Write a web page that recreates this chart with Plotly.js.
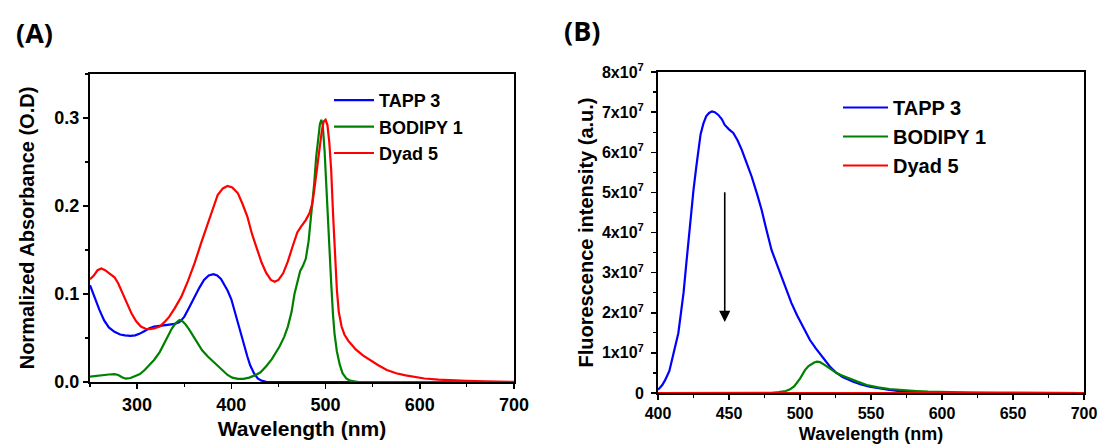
<!DOCTYPE html>
<html>
<head>
<meta charset="utf-8">
<script src="https://cdn.plot.ly/plotly-3.0.1.min.js"></script>
<style>html,body{margin:0;padding:0;background:#fff;}#chart{width:1099px;height:446px;}</style>
</head>
<body>
<div id="chart"></div>
<script>
// ---------- Panel A: absorbance ----------
const absTappNm = [250,255,260,265,270,276,282,287,293,298,303,308,313,318,325,333,340,345,350,355,361,366,371,376,381,385,389,393,396,400,403,407,410,414,417,420,424,428,432,437,445,500,600,700];
const absTapp   = [0.110,0.095,0.082,0.070,0.062,0.057,0.054,0.053,0.0525,0.053,0.055,0.058,0.061,0.063,0.064,0.065,0.066,0.068,0.074,0.084,0.097,0.107,0.116,0.121,0.1225,0.121,0.117,0.110,0.104,0.094,0.082,0.067,0.055,0.040,0.029,0.019,0.010,0.004,0.0015,0.0003,0,0,0,0];

const absBodNm = [250,256,262,270,276,280,284,288,293,297,303,308,313,318,324,329,333,337,341,345,348,351,355,360,364,369,375,380,385,390,396,401,407,413,419,425,431,437,443,451,456,460,464,467,470,473,476,479,482,485,488,490,492,494,495.5,497,499,501,502,504,506,508,509.5,512,515,518,522,526,530,535,600,700];
const absBod   = [0.006,0.007,0.008,0.0085,0.009,0.008,0.0055,0.0038,0.0045,0.006,0.009,0.0136,0.019,0.025,0.034,0.044,0.053,0.061,0.067,0.0705,0.069,0.066,0.060,0.051,0.044,0.036,0.029,0.024,0.0195,0.015,0.008,0.005,0.0035,0.0036,0.005,0.0075,0.011,0.018,0.026,0.040,0.051,0.063,0.080,0.100,0.115,0.126,0.132,0.140,0.160,0.190,0.226,0.255,0.278,0.293,0.298,0.292,0.262,0.215,0.188,0.150,0.112,0.075,0.055,0.035,0.020,0.010,0.004,0.0015,0.0005,0,0,0];

const absDyadNm = [250,254,258,262,266,271,276,280,283,288,294,299,304,309,313,318,324,329,334,340,347,354,361,368,375,380,385.5,391,396,401,407,412,417,422,428,432,437,442,446,450,455,460,465,470,474,479,483,486,488,491,493.5,496,498,500,502,504,506,508,510,512,514,517,520,524,528,532,540,548,556,565,575,585,595,605,620,635,650,670,700];
const absDyad   = [0.1167,0.121,0.127,0.129,0.127,0.1225,0.119,0.112,0.1045,0.092,0.078,0.069,0.063,0.0605,0.060,0.061,0.063,0.068,0.074,0.084,0.097,0.115,0.135,0.158,0.180,0.197,0.2125,0.220,0.2227,0.221,0.2144,0.202,0.188,0.168,0.150,0.136,0.124,0.116,0.114,0.116,0.1235,0.137,0.154,0.170,0.1765,0.184,0.192,0.203,0.218,0.240,0.264,0.285,0.296,0.298,0.292,0.272,0.240,0.190,0.140,0.105,0.080,0.063,0.054,0.047,0.042,0.037,0.030,0.024,0.019,0.0137,0.0100,0.0075,0.0055,0.0040,0.0027,0.0018,0.0012,0.0006,0.0002];

// ---------- Panel B: fluorescence ----------
const flTappNm = [400,403,405,408,410,412,414.3,416,418,420,421.4,423,425,427,428.4,430,432,434,436,438,440,442.5,445,447,450,453,456,459,462,466,470,473,476,480,484,487,490,494,498,502,507,511,514,518,521,525,530,537.5,543,549,556,563,570,577,585,600,625,650,700];
const flTapp   = [0.08e7,0.2e7,0.32e7,0.55e7,0.85e7,1.15e7,1.49e7,1.95e7,2.5e7,3.25e7,3.81e7,4.45e7,5.06e7,5.65e7,6.06e7,6.45e7,6.72e7,6.9e7,6.98e7,7.02e7,7.0e7,6.93e7,6.82e7,6.68e7,6.57e7,6.48e7,6.3e7,6.06e7,5.77e7,5.39e7,4.93e7,4.56e7,4.12e7,3.56e7,3.18e7,2.90e7,2.57e7,2.24e7,1.93e7,1.65e7,1.32e7,1.12e7,0.99e7,0.80e7,0.66e7,0.52e7,0.40e7,0.28e7,0.21e7,0.157e7,0.11e7,0.075e7,0.045e7,0.03e7,0.015e7,0.005e7,0.001e7,0,0];

const flBodNm = [400,470,480,485,490,493,496,500,503.5,506,508,510,512,514,516,519,522,526,530,535,540,547,555,563,572,582,590,600,611,622,640,660,700];
const flBod   = [0,0,0.005e7,0.02e7,0.05e7,0.09e7,0.17e7,0.36e7,0.57e7,0.67e7,0.72e7,0.76e7,0.78e7,0.77e7,0.73e7,0.66e7,0.58e7,0.49e7,0.43e7,0.35e7,0.29e7,0.20e7,0.14e7,0.10e7,0.07e7,0.05e7,0.035e7,0.025e7,0.017e7,0.01e7,0.005e7,0.002e7,0];

const flDyadNm = [400,450,500,550,600,650,700];
const flDyad   = [0,0,0,0,0,0,0];

const seriesNames = ['TAPP 3','BODIPY 1','Dyad 5'];
const seriesColors = ['#0000ff','#008000','#ff0000'];

const flTickVals = [0,1e7,2e7,3e7,4e7,5e7,6e7,7e7,8e7];
const flTickText = ['0','1x10<sup>7</sup>','2x10<sup>7</sup>','3x10<sup>7</sup>','4x10<sup>7</sup>','5x10<sup>7</sup>','6x10<sup>7</sup>','7x10<sup>7</sup>','8x10<sup>7</sup>'];

const FONT = 'Liberation Sans, Arial, sans-serif';
const W = 1099, H = 446;

const absX = [absTappNm, absBodNm, absDyadNm];
const absY = [absTapp, absBod, absDyad];
const flX = [flTappNm, flBodNm, flDyadNm];
const flY = [flTapp, flBod, flDyad];

const traces = [];
for (let i = 0; i < 3; i++) {
  traces.push({x: absX[i], y: absY[i], type: 'scatter', mode: 'lines', name: seriesNames[i],
    line: {color: seriesColors[i], width: 2.2}, xaxis: 'x', yaxis: 'y', legend: 'legend', hoverinfo: 'skip'});
}
for (let i = 0; i < 3; i++) {
  traces.push({x: flX[i], y: flY[i], type: 'scatter', mode: 'lines', name: seriesNames[i],
    line: {color: seriesColors[i], width: 2.2}, xaxis: 'x2', yaxis: 'y2', legend: 'legend2', hoverinfo: 'skip'});
}

function axisBase() {
  return {showgrid: false, zeroline: false, showline: true, linecolor: '#000', linewidth: 2, mirror: true,
    ticks: 'outside', ticklen: 5, tickwidth: 1.5, tickcolor: '#000', automargin: false, fixedrange: true};
}

const layout = {
  width: W, height: H,
  margin: {l: 0, r: 0, t: 0, b: 0},
  paper_bgcolor: '#fff', plot_bgcolor: '#fff',
  showlegend: true,
  xaxis: Object.assign(axisBase(), {
    domain: [90/W, 514/W], range: [250, 700], anchor: 'y',
    tick0: 300, dtick: 100, minor: {dtick: 50, tick0: 250, ticks: 'outside', ticklen: 3, tickwidth: 1.2, tickcolor: '#000'},
    tickfont: {family: FONT, size: 18, weight: 'bold', color: '#000'},
    title: {text: 'Wavelength (nm)', font: {family: FONT, size: 21, weight: 'bold', color: '#000'}, standoff: 8}
  }),
  yaxis: Object.assign(axisBase(), {
    domain: [1 - 382/H, 1 - 74/H], range: [0, 0.35], anchor: 'x',
    tick0: 0, dtick: 0.1, tickformat: '.1f', minor: {dtick: 0.05, ticks: 'outside', ticklen: 3, tickwidth: 1.2, tickcolor: '#000'},
    tickfont: {family: FONT, size: 18, weight: 'bold', color: '#000'},
    title: {text: 'Normalized Absorbance (O.D)', font: {family: FONT, size: 20, weight: 'bold', color: '#000'}, standoff: 14}
  }),
  xaxis2: Object.assign(axisBase(), {
    domain: [658/W, 1084/W], range: [400, 700], anchor: 'y2',
    tick0: 400, dtick: 50, minor: {dtick: 25, ticks: 'outside', ticklen: 3, tickwidth: 1.2, tickcolor: '#000'},
    tickfont: {family: FONT, size: 16, weight: 'bold', color: '#000'},
    title: {text: 'Wavelength (nm)', font: {family: FONT, size: 18, weight: 'bold', color: '#000'}, standoff: 6}
  }),
  yaxis2: Object.assign(axisBase(), {
    domain: [1 - 393/H, 1 - 72/H], range: [0, 8e7], anchor: 'x2',
    tickmode: 'array', tickvals: flTickVals, ticktext: flTickText, ticklabelstandoff: 4,
    minor: {tickmode: 'linear', tick0: 0, dtick: 0.5e7, ticks: 'outside', ticklen: 3, tickwidth: 1.2, tickcolor: '#000'},
    tickfont: {family: FONT, size: 16, weight: 'bold', color: '#000'},
    title: {text: 'Fluorescence intensity (a.u.)', font: {family: FONT, size: 20, weight: 'bold', color: '#000'}, standoff: 3}
  }),
  legend: {x: 329/W, y: 1 - 82/H, xanchor: 'left', yanchor: 'top', bgcolor: 'rgba(0,0,0,0)', borderwidth: 0,
    font: {family: FONT, size: 18, weight: 'bold', color: '#000'}, itemwidth: 40},
  legend2: {x: 838/W, y: 1 - 88/H, xanchor: 'left', yanchor: 'top', bgcolor: 'rgba(0,0,0,0)', borderwidth: 0,
    font: {family: FONT, size: 20, weight: 'bold', color: '#000'}, itemwidth: 45},
  annotations: [
    {text: '(A)', xref: 'paper', yref: 'paper', x: 34/W, y: 1 - 33/H, showarrow: false, xanchor: 'center', yanchor: 'middle',
      font: {family: 'Open Sans, sans-serif', size: 27, weight: 'bold', color: '#000'}},
    {text: '(B)', xref: 'paper', yref: 'paper', x: 582/W, y: 1 - 31/H, showarrow: false, xanchor: 'center', yanchor: 'middle',
      font: {family: 'Open Sans, sans-serif', size: 27, weight: 'bold', color: '#000'}},
    {text: '', xref: 'x2', yref: 'y2', axref: 'x2', ayref: 'y2', x: 447, y: 1.77e7, ax: 447, ay: 5.04e7,
      showarrow: true, arrowhead: 2, arrowsize: 1.4, arrowwidth: 1.6, arrowcolor: '#000'}
  ]
};

Plotly.newPlot('chart', traces, layout, {displayModeBar: false, staticPlot: true});
</script>
</body>
</html>
